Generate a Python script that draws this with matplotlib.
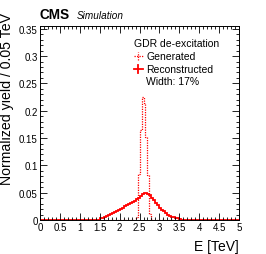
import numpy as np
import matplotlib
matplotlib.use("Agg")
import matplotlib.pyplot as plt
from matplotlib.ticker import MultipleLocator

plt.rcParams["font.family"] = ["Liberation Sans", "DejaVu Sans"]

bin_width = 0.05

# generated (dotted) histogram, first bin starts at gen_start
gen_start = 2.40
gen_yield = [0.005, 0.085, 0.165, 0.226, 0.214, 0.152, 0.083, 0.012]

# reconstructed (solid) histogram, first bin starts at reco_start
reco_start = 1.40
reco_yield = [
    0.000, 0.001, 0.003, 0.004, 0.006, 0.007, 0.009, 0.011, 0.013, 0.015,
    0.017, 0.019, 0.021, 0.023, 0.025, 0.027, 0.029, 0.031, 0.033, 0.035,
    0.038, 0.041, 0.044, 0.047, 0.049, 0.049, 0.048, 0.045, 0.041, 0.037,
    0.032, 0.028, 0.023, 0.019, 0.016, 0.013, 0.010, 0.008, 0.006, 0.005,
    0.004, 0.003, 0.002, 0.001, 0.001, 0.000,
]

x_ticks = [0, 0.5, 1, 1.5, 2, 2.5, 3, 3.5, 4, 4.5, 5]
x_ticklabels = ["0", "0.5", "1", "1.5", "2", "2.5", "3", "3.5", "4", "4.5", "5"]
y_ticks = [0, 0.05, 0.1, 0.15, 0.2, 0.25, 0.3, 0.35]
y_ticklabels = ["0", "0.05", "0.1", "0.15", "0.2", "0.25", "0.3", "0.35"]


def full_range(start, values):
    # pad with empty bins so the histogram spans the whole 0-5 TeV axis
    n_lo = int(round(start / bin_width))
    n_all = int(round(5.0 / bin_width))
    vals = np.zeros(n_all)
    vals[n_lo:n_lo + len(values)] = values
    edges = np.arange(n_all + 1) * bin_width
    return edges, vals


red = "#ff0000"

fig = plt.figure(figsize=(2.66, 2.55), dpi=100)
ax = fig.add_axes([0.150, 0.133, 0.749, 0.761])

e, v = full_range(reco_start, reco_yield)
ax.stairs(v, e, color=red, linewidth=1.3)
e, v = full_range(gen_start, gen_yield)
ax.stairs(v, e, color=red, linewidth=0.9, linestyle=(0, (1, 1)))

ax.set_xlim(0, 5)
ax.set_ylim(0, 0.355)
ax.set_xticks(x_ticks)
ax.set_xticklabels(x_ticklabels)
ax.set_yticks(y_ticks)
ax.set_yticklabels(y_ticklabels)
ax.xaxis.set_minor_locator(MultipleLocator(0.1))
ax.yaxis.set_minor_locator(MultipleLocator(0.01))
ax.tick_params(which="both", direction="in", top=True, right=True,
               labelsize=7, width=0.6, pad=1.5)
ax.tick_params(which="major", length=5)
ax.tick_params(which="minor", length=2.5)
for s in ax.spines.values():
    s.set_linewidth(0.7)

fig.text(7.5 / 266, 1 - 13 / 255, "Normalized yield / 0.05 TeV", rotation=90,
         ha="center", va="top", fontsize=10.2)
fig.text(0.899, 1 - 247 / 255, "E [TeV]", ha="right", va="center", fontsize=10)

fig.text(40 / 266, 1 - 19 / 255, "CMS", fontweight="bold", fontsize=9.8,
         ha="left", va="baseline")
fig.text(77 / 266, 1 - 19 / 255, "Simulation", style="italic", fontsize=7.2,
         ha="left", va="baseline")

# legend drawn by hand (ROOT-style crosses)
tr = ax.transAxes
ax.text(0.472, 0.912, "GDR de-excitation", transform=tr, fontsize=7.5,
        ha="left", va="center")
ax.plot([0.470, 0.518], [0.845, 0.845], transform=tr, color=red, lw=0.9,
        linestyle=(0, (1, 1)))
ax.plot([0.494, 0.494], [0.825, 0.865], transform=tr, color=red, lw=0.9,
        linestyle=(0, (1, 1)))
ax.text(0.533, 0.845, "Generated", transform=tr, fontsize=7.5,
        ha="left", va="center")
ax.plot([0.470, 0.518], [0.778, 0.778], transform=tr, color=red, lw=1.3)
ax.plot([0.494, 0.494], [0.756, 0.800], transform=tr, color=red, lw=1.3)
ax.text(0.533, 0.778, "Reconstructed", transform=tr, fontsize=7.5,
        ha="left", va="center")
ax.text(0.533, 0.716, "Width: 17%", transform=tr, fontsize=7.5,
        ha="left", va="center")

fig.savefig("out.png", dpi=100)
